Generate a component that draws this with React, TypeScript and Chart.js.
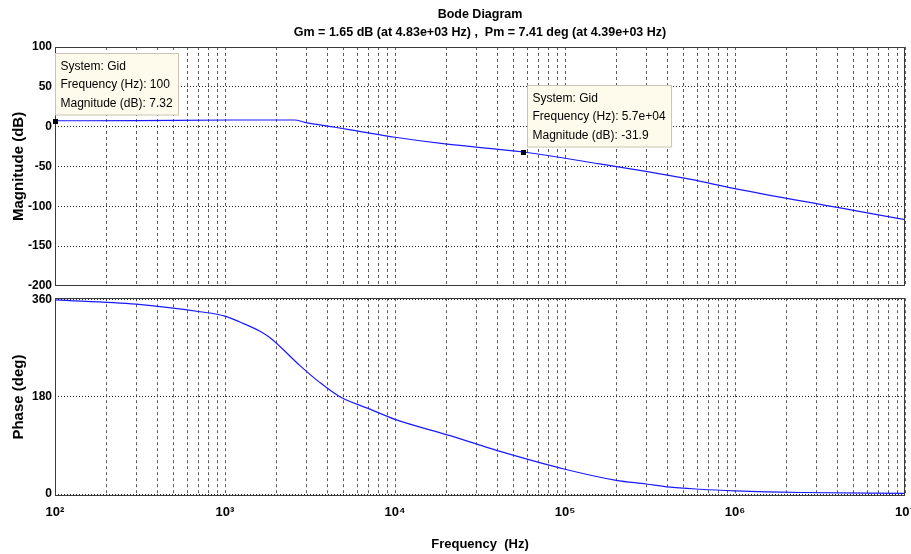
import React, { useEffect, useRef } from 'react';
import { Chart, registerables } from 'chart.js';

Chart.register(...registerables);

// ---------- data ----------
const titleLines = ['Bode Diagram', 'Gm = 1.65 dB (at 4.83e+03 Hz) ,  Pm = 7.41 deg (at 4.39e+03 Hz)'];

const magFreq = [100, 300, 1084, 2570, 2950, 4440, 5970, 1e4, 19700, 57000, 1.6e5, 5.4e5, 9.8e5, 4e6, 1e7];
const magDb = [7.32, 7.5, 8.3, 8.3, 5.4, -0.8, -5.4, -13.4, -21.8, -31.9, -46.9, -66, -77.5, -101.5, -117];

const phaseFreq = [100, 300, 713, 1000, 1224, 1607, 1841, 2760, 3620, 4740, 7130, 1e4, 21100, 31600, 41500, 1e5, 2e5, 3e5, 4e5, 6.2e5, 1e6, 2.4e6, 1e7];
const phaseDeg = [359, 351, 337, 329, 318, 301, 289, 237.5, 206, 180, 157, 138, 108, 90.5, 79, 46, 25.5, 18.7, 13.3, 9, 6, 3, 1.5];

const magTicks = [100, 50, 0, -50, -100, -150, -200];
const phaseTicks = [0, 180, 360];
const decadeTicks = [1e2, 1e3, 1e4, 1e5, 1e6, 1e7];
const decadeLabels = ['10²', '10³', '10⁴', '10⁵', '10⁶', '10⁷'];

const tipSystem = 'Gid';
const tipFreq = [100, 5.7e4];
const tipMag = [7.32, -31.9];
const tipFreqText = ['100', '5.7e+04'];
const tipMagText = ['7.32', '-31.9'];

// ---------- styles ----------
const SANS = "'Liberation Sans', Arial, sans-serif";
const LINE_BLUE = '#1a1aff';
const tipOffsets = [{ dx: 0, dy: -68 }, { dx: 4, dy: -67 }];

function gridValues(): number[] {
  const v: number[] = [];
  for (let e = 2; e < 7; e++) for (let m = 1; m < 10; m++) v.push(m * Math.pow(10, e));
  v.push(1e7);
  return v;
}

const titlePlugin = {
  id: 'bodeTitle',
  afterDraw(chart: any) {
    const { left, right } = chart.chartArea;
    const ctx = chart.ctx;
    ctx.save();
    ctx.fillStyle = '#000';
    ctx.textAlign = 'center';
    ctx.textBaseline = 'middle';
    ctx.font = `bold 12.5px ${SANS}`;
    const cx = (left + right) / 2;
    ctx.fillText(titleLines[0], cx, 15);
    ctx.fillText(titleLines[1], cx, 33);
    ctx.restore();
  },
};

const boxPlugin = {
  id: 'boxFrame',
  afterDatasetsDraw(chart: any) {
    const { left, top, right, bottom } = chart.chartArea;
    const ctx = chart.ctx;
    ctx.save();
    ctx.strokeStyle = '#3a3a3a';
    ctx.lineWidth = 1;
    ctx.setLineDash([]);
    ctx.strokeRect(Math.round(left) + 0.5, Math.round(top) + 0.5, Math.round(right - left) - 1, Math.round(bottom - top) - 1);
    ctx.restore();
  },
};

const tipPlugin = {
  id: 'dataTips',
  afterDraw(chart: any) {
    const ctx = chart.ctx;
    const xs = chart.scales.x;
    const ys = chart.scales.y;
    ctx.save();
    ctx.font = `12px ${SANS}`;
    ctx.textBaseline = 'middle';
    ctx.textAlign = 'left';
    tipFreq.forEach((f, i) => {
      const px = xs.getPixelForValue(f);
      const py = ys.getPixelForValue(tipMag[i]);
      const lines = [`System: ${tipSystem}`, `Frequency (Hz): ${tipFreqText[i]}`, `Magnitude (dB): ${tipMagText[i]}`];
      const w = Math.max(...lines.map((l) => ctx.measureText(l).width)) + 11;
      const lh = 18.5;
      const h = lh * 3 + 6;
      const bx = Math.round(px + tipOffsets[i].dx) + 0.5;
      const by = Math.round(py + tipOffsets[i].dy) + 0.5;
      ctx.fillStyle = '#fffbec';
      ctx.strokeStyle = '#c9c4b4';
      ctx.lineWidth = 1;
      ctx.fillRect(bx, by, w, h);
      ctx.strokeRect(bx, by, w, h);
      ctx.fillStyle = '#000';
      lines.forEach((l, j) => ctx.fillText(l, bx + 5, by + 13 + j * lh));
      ctx.fillStyle = '#000';
      ctx.fillRect(Math.round(px) - 2, Math.round(py) - 2, 5, 5);
    });
    ctx.restore();
  },
};

function xScale(showLabels: boolean): any {
  return {
    type: 'logarithmic',
    min: 100,
    max: 1e7,
    afterBuildTicks: (s: any) => {
      s.ticks = gridValues().map((v) => ({ value: v, major: decadeTicks.includes(v) }));
    },
    afterFit: (s: any) => {
      s.paddingLeft = 0;
      s.paddingRight = 0;
    },
    ticks: {
      display: showLabels,
      autoSkip: false,
      maxRotation: 0,
      padding: 9,
      color: '#000',
      font: { family: SANS, size: 13, weight: 'bold' },
      callback: (v: any) => {
        const idx = decadeTicks.indexOf(Number(v));
        return idx >= 0 ? decadeLabels[idx] : '';
      },
    },
    grid: { color: '#5e5e5e', lineWidth: 1, drawTicks: false },
    border: { display: false, dash: [3, 3] },
    title: showLabels
      ? { display: true, text: 'Frequency  (Hz)', color: '#000', font: { family: SANS, size: 13, weight: 'bold' }, padding: { top: 7, bottom: 0 } }
      : { display: false },
  };
}

function yScale(min: number, max: number, ticks: number[], title: string): any {
  return {
    min,
    max,
    afterBuildTicks: (s: any) => {
      s.ticks = ticks.map((v) => ({ value: v }));
    },
    afterFit: (s: any) => {
      s.width = 55;
    },
    ticks: {
      color: '#000',
      padding: 3,
      font: { family: SANS, size: 12, weight: 'bold' },
    },
    grid: { color: '#222', lineWidth: 1, drawTicks: false },
    border: { display: false, dash: [1, 2] },
    title: { display: true, text: title, color: '#000', font: { family: SANS, size: 15, weight: 'bold' }, padding: { top: 10, bottom: 0 } },
  };
}

export default function App() {
  const magRef = useRef<HTMLCanvasElement>(null);
  const phRef = useRef<HTMLCanvasElement>(null);

  useEffect(() => {
    const magChart = new Chart(magRef.current as HTMLCanvasElement, {
      type: 'line',
      data: {
        datasets: [
          {
            data: magFreq.map((f, i) => ({ x: f, y: magDb[i] })),
            borderColor: LINE_BLUE,
            borderWidth: 1.2,
            pointRadius: 0,
            cubicInterpolationMode: 'monotone',
            fill: false,
          },
        ],
      },
      options: {
        animation: false,
        responsive: false,
        maintainAspectRatio: false,
        layout: { padding: { left: 0, right: 6, top: 47, bottom: 10 } },
        plugins: {
          legend: { display: false },
          tooltip: { enabled: false },
          title: { display: false },
        },
        scales: {
          x: xScale(false),
          y: yScale(-200, 100, magTicks, 'Magnitude (dB)'),
        },
      } as any,
      plugins: [boxPlugin, titlePlugin, tipPlugin],
    });

    const phChart = new Chart(phRef.current as HTMLCanvasElement, {
      type: 'line',
      data: {
        datasets: [
          {
            data: phaseFreq.map((f, i) => ({ x: f, y: phaseDeg[i] })),
            borderColor: LINE_BLUE,
            borderWidth: 1.2,
            pointRadius: 0,
            cubicInterpolationMode: 'monotone',
            fill: false,
          },
        ],
      },
      options: {
        animation: false,
        responsive: false,
        maintainAspectRatio: false,
        layout: { padding: { left: 0, right: 6, top: 7.5, bottom: 1.8 } },
        plugins: {
          legend: { display: false },
          tooltip: { enabled: false },
          title: { display: false },
        },
        scales: {
          x: xScale(true),
          y: yScale(-3.5, 362, phaseTicks, 'Phase (deg)'),
        },
      } as any,
      plugins: [boxPlugin],
    });

    return () => {
      magChart.destroy();
      phChart.destroy();
    };
  }, []);

  return (
    <div style={{ position: 'absolute', left: 0, top: 0, width: 911, height: 554, background: '#fff' }}>
      <canvas ref={magRef} width={911} height={296} style={{ position: 'absolute', left: 0, top: 0, width: 911, height: 296 }} />
      <canvas ref={phRef} width={911} height={266} style={{ position: 'absolute', left: 0, top: 288, width: 911, height: 266 }} />
    </div>
  );
}
